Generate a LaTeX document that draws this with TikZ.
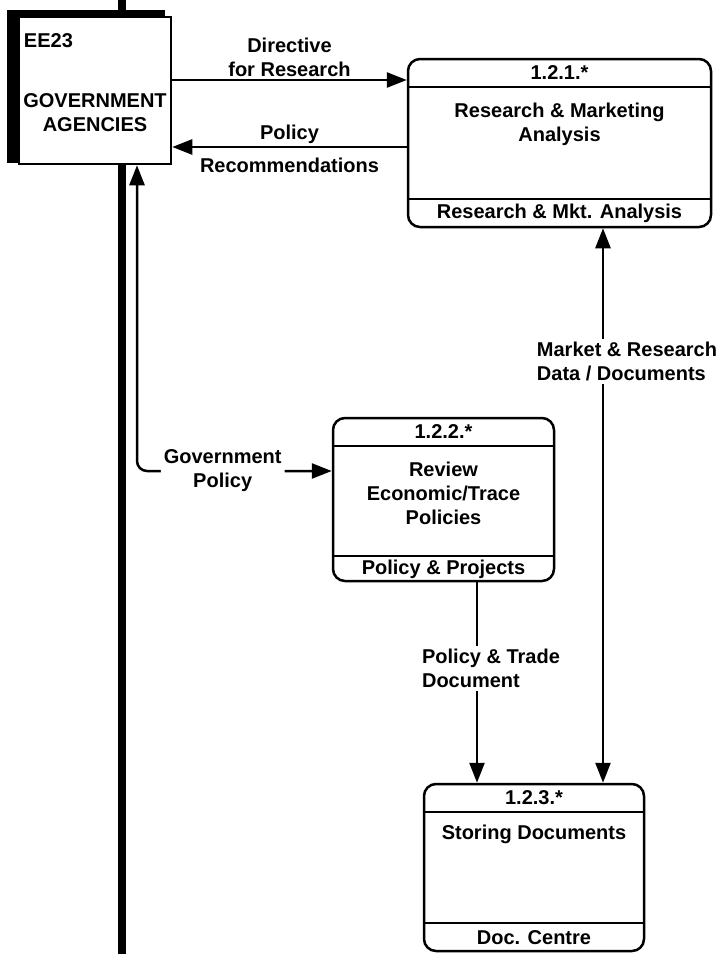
\documentclass[tikz,border=0pt]{standalone}
\usepackage{fontspec}
\setmainfont{Liberation Sans}
\usepackage{tikz}
\usetikzlibrary{arrows.meta,calc,positioning,shadows}
\tikzset{%
	entity/.style   = {draw, rectangle, line width=2.5pt, fill=white, minimum width=152pt, minimum height=147pt,
	                   drop shadow={shadow xshift=-8.5pt, shadow yshift=3.5pt, shadow scale=1.04, fill=black, opacity=1}}, % External entity
	process/.style  = {draw, rectangle, rounded corners=12pt, line width=2.5pt, fill=white}, % Process box
	procid/.style   = {rectangle, minimum height=29pt}, % Process number
	procloc/.style  = {rectangle, minimum height=29pt}, % Location
	divider/.style  = {line width=2.5pt},
	flow/.style     = {line width=2.5pt, >={Triangle[length=20pt,width=15pt]}},
	flowlabel/.style= {fill=white, inner sep=3pt},
	bus/.style      = {line width=8pt},
}
\begin{document}
\begin{tikzpicture}[x=1pt, y=-1pt, font=\bfseries\fontsize{20}{24}\selectfont, every node/.style={inner sep=2pt}]
	\useasboundingbox (0,0) rectangle (725,954);
	\coordinate (gtop) at (122,0);
	\coordinate (gbot) at (122,954);
	
	\node[entity] (gov) at (95,90.5) {};
	\node[anchor=north west] (govid) at ([shift={(4,16)}]gov.north west) {EE23};
	\node[align=center] (govname) at ([yshift=-22pt]gov.center) {GOVERNMENT\\AGENCIES};
	\draw[bus] (gtop) -- (gtop |- gov.north);
	\draw[bus] (gov.south -| gbot) -- (gbot);
	
	\node[process, minimum width=303pt, minimum height=168pt] (p121) at (559.5,143) {};
	\node[procid, below=0pt of p121.north] (p121id) {1.2.1.*};
	\node[procloc, above=0pt of p121.south] (p121loc) {Research \& Mkt. Analysis};
	\node[align=center, below=14pt of p121id] (p121name) {Research \& Marketing\\Analysis};
	\draw[divider] (p121id.south -| p121.west) -- (p121id.south -| p121.east);
	\draw[divider] (p121loc.north -| p121.west) -- (p121loc.north -| p121.east);
	
	\node[process, minimum width=221pt, minimum height=163pt] (p122) at (443.5,499.5) {};
	\node[procid, below=0pt of p122.north] (p122id) {1.2.2.*};
	\node[procloc, above=0pt of p122.south, minimum height=26pt] (p122loc) {Policy \& Projects};
	\node[align=center, below=14pt of p122id] (p122name) {Review\\Economic/Trace\\Policies};
	\draw[divider] (p122id.south -| p122.west) -- (p122id.south -| p122.east);
	\draw[divider] (p122loc.north -| p122.west) -- (p122loc.north -| p122.east);
	
	\node[process, minimum width=220pt, minimum height=167pt] (p123) at (534,867.5) {};
	\node[procid, below=0pt of p123.north] (p123id) {1.2.3.*};
	\node[procloc, above=0pt of p123.south] (p123loc) {Doc. Centre};
	\node[align=center, below=11pt of p123id] (p123name) {Storing Documents};
	\draw[divider] (p123id.south -| p123.west) -- (p123id.south -| p123.east);
	\draw[divider] (p123loc.north -| p123.west) -- (p123loc.north -| p123.east);
	
	\coordinate (dirstart) at ([yshift=10.5pt]gov.east);
	\coordinate (recend) at ([yshift=-56.5pt]gov.east);
	\coordinate (gpstart) at ([xshift=42pt]gov.south);
	\coordinate (gpend) at ([yshift=28.5pt]p122.west);
	\coordinate (ptstart) at ([xshift=33.5pt]p122.south);
	\coordinate (mrstart) at ([xshift=43.5pt]p121.south);
	\draw[flow,->] (dirstart) -- (dirstart -| p121.west) node[midway, above, align=center] {Directive\\for Research};
	\draw[flow,<-] (recend) -- (recend -| p121.west) node[midway, above] {Policy} node[midway, below=8pt] {Recommendations};
	\draw[flow,<->, rounded corners=10pt] (gpstart) |- (gpend) node[pos=.72, flowlabel, align=center] {Government\\Policy};
	\draw[flow,->] (ptstart) -- (ptstart |- p123.north) node[pos=.43, xshift=14pt, flowlabel, align=left] {Policy \& Trade\\Document};
	\draw[flow,<->] (mrstart) -- (mrstart |- p123.north) node[pos=.24, xshift=24pt, flowlabel, align=left] {Market \& Research\\Data / Documents};
\end{tikzpicture}
\end{document}
